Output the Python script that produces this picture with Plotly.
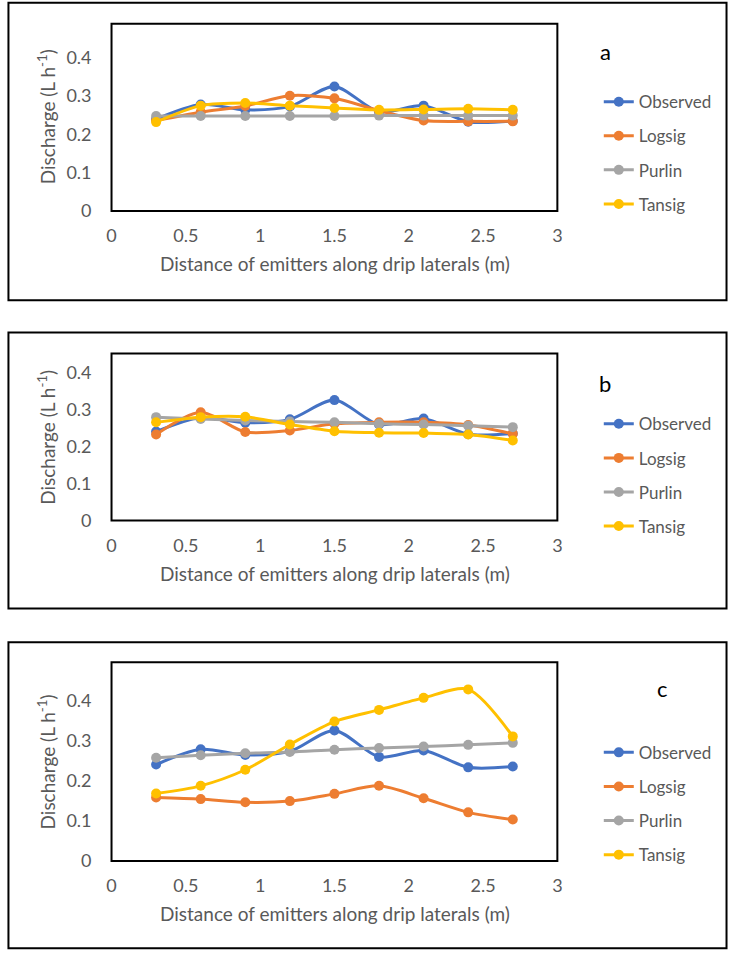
import plotly.graph_objects as go

# ---------------- data ----------------
x_dist = [0.3, 0.6, 0.9, 1.2, 1.5, 1.8, 2.1, 2.4, 2.7]
x_ticks = [0, 0.5, 1, 1.5, 2, 2.5, 3]
x_ticktext = ["0", "0.5", "1", "1.5", "2", "2.5", "3"]
y_ticks = [0, 0.1, 0.2, 0.3, 0.4]
y_ticktext = ["0", "0.1", "0.2", "0.3", "0.4"]
series_names = ["Observed", "Logsig", "Purlin", "Tansig"]
panel_labels = ["a", "b", "c"]

observed = [0.240, 0.278, 0.264, 0.273, 0.325, 0.259, 0.275, 0.233, 0.235]

a_logsig = [0.236, 0.258, 0.274, 0.301, 0.294, 0.262, 0.236, 0.234, 0.234]
a_purlin = [0.248, 0.248, 0.248, 0.248, 0.248, 0.249, 0.249, 0.249, 0.249]
a_tansig = [0.232, 0.275, 0.282, 0.275, 0.269, 0.264, 0.265, 0.267, 0.264]

b_logsig = [0.232, 0.292, 0.239, 0.243, 0.261, 0.265, 0.265, 0.258, 0.234]
b_purlin = [0.279, 0.274, 0.270, 0.267, 0.265, 0.261, 0.259, 0.256, 0.252]
b_tansig = [0.265, 0.279, 0.280, 0.259, 0.241, 0.237, 0.236, 0.232, 0.216]

c_logsig = [0.158, 0.154, 0.146, 0.149, 0.167, 0.187, 0.156, 0.121, 0.103]
c_purlin = [0.257, 0.263, 0.268, 0.271, 0.277, 0.281, 0.285, 0.289, 0.294]
c_tansig = [0.168, 0.187, 0.227, 0.290, 0.347, 0.376, 0.406, 0.427, 0.310]

panel_series = [
    [observed, a_logsig, a_purlin, a_tansig],
    [observed, b_logsig, b_purlin, b_tansig],
    [observed, c_logsig, c_purlin, c_tansig],
]

# ---------------- styling / layout (pixels) ----------------
W, H = 733, 963
colors = ["#4472C4", "#ED7D31", "#A5A5A5", "#FFC000"]
FONT = "Lato"
GRAY = "#595959"

plot_left, plot_right = 108, 560
panels = [
    dict(top=24.0, bottom=213.3, per01=38.75, outer=(2.7, 303.3),
         label=(608.6, 51.7), leg_top=85.0, ytitle=118, xlab=266.7),
    dict(top=357.3, bottom=526.0, per01=37.45, outer=(336.0, 615.0),
         label=(608.0, 388.0), leg_top=410.5, ytitle=442, xlab=579.3),
    dict(top=669.3, bottom=870.0, per01=40.6, outer=(649.0, 958.3),
         label=(667.0, 696.0), leg_top=742.5, ytitle=770, xlab=923.3),
]


def py(y):
    return 1 - y / H


def px(x):
    return x / W


fig = go.Figure()
shapes = []
annotations = []
layout = {}

for i, p in enumerate(panels):
    n = i + 1
    sfx = "" if n == 1 else str(n)
    xa, ya = "x" + sfx, "y" + sfx
    leg = "legend" + sfx
    ymax = (p["bottom"] - p["top"]) / p["per01"] * 0.1

    for k, name in enumerate(series_names):
        fig.add_trace(go.Scatter(
            x=x_dist, y=panel_series[i][k], name=name, mode="lines+markers",
            line=dict(color=colors[k], width=3, shape="spline", smoothing=0.8),
            marker=dict(color=colors[k], size=10),
            xaxis=xa, yaxis=ya, legend=leg, legendgroup=f"{n}{name}",
        ))

    layout["xaxis" + sfx] = dict(
        domain=[px(plot_left), px(plot_right)], range=[0, 3], anchor=ya,
        tickvals=x_ticks, ticktext=x_ticktext, showgrid=False, zeroline=False,
        showline=False, ticks="", ticklabelstandoff=12,
        tickfont=dict(family=FONT, size=18, color=GRAY), fixedrange=True,
    )
    layout["yaxis" + sfx] = dict(
        domain=[py(p["bottom"]), py(p["top"])], range=[0, ymax], anchor=xa,
        tickvals=y_ticks, ticktext=y_ticktext, showgrid=False, zeroline=False,
        showline=False, ticks="", ticklabelstandoff=19,
        tickfont=dict(family=FONT, size=18, color=GRAY), fixedrange=True,
    )
    layout[leg] = dict(
        x=px(602), y=py(p["leg_top"]), xanchor="left", yanchor="top",
        font=dict(family=FONT, size=17, color=GRAY), tracegroupgap=9,
        bgcolor="rgba(0,0,0,0)", borderwidth=0,
    )

    # plot-area box
    shapes.append(dict(type="rect", xref="paper", yref="paper",
                       x0=px(plot_left), x1=px(plot_right),
                       y0=py(p["bottom"]), y1=py(p["top"]),
                       line=dict(color="black", width=2)))
    # panel outer frame
    shapes.append(dict(type="rect", xref="paper", yref="paper",
                       x0=px(3.5), x1=px(731.5),
                       y0=py(p["outer"][1]), y1=py(p["outer"][0]),
                       line=dict(color="black", width=2)))

    annotations.append(dict(
        text="Discharge (L h<sup>-1</sup>)", textangle=-90,
        x=px(42), y=py(p["ytitle"]), xref="paper", yref="paper",
        showarrow=False, xanchor="center", yanchor="middle",
        font=dict(family=FONT, size=19, color=GRAY)))
    annotations.append(dict(
        text="Distance of emitters along drip laterals (m)",
        x=px(334.5), y=py(p["xlab"]), xref="paper", yref="paper",
        showarrow=False, xanchor="center", yanchor="middle",
        font=dict(family=FONT, size=19, color=GRAY)))
    annotations.append(dict(
        text=panel_labels[i], x=px(p["label"][0]), y=py(p["label"][1]),
        xref="paper", yref="paper", showarrow=False,
        xanchor="center", yanchor="middle",
        font=dict(family=FONT, size=22, color="black")))

fig.update_layout(
    width=W, height=H, margin=dict(l=0, r=0, t=0, b=0),
    paper_bgcolor="white", plot_bgcolor="white",
    shapes=shapes, annotations=annotations, showlegend=True,
    **layout,
)

fig.write_html("out.html", config={"displayModeBar": False})
